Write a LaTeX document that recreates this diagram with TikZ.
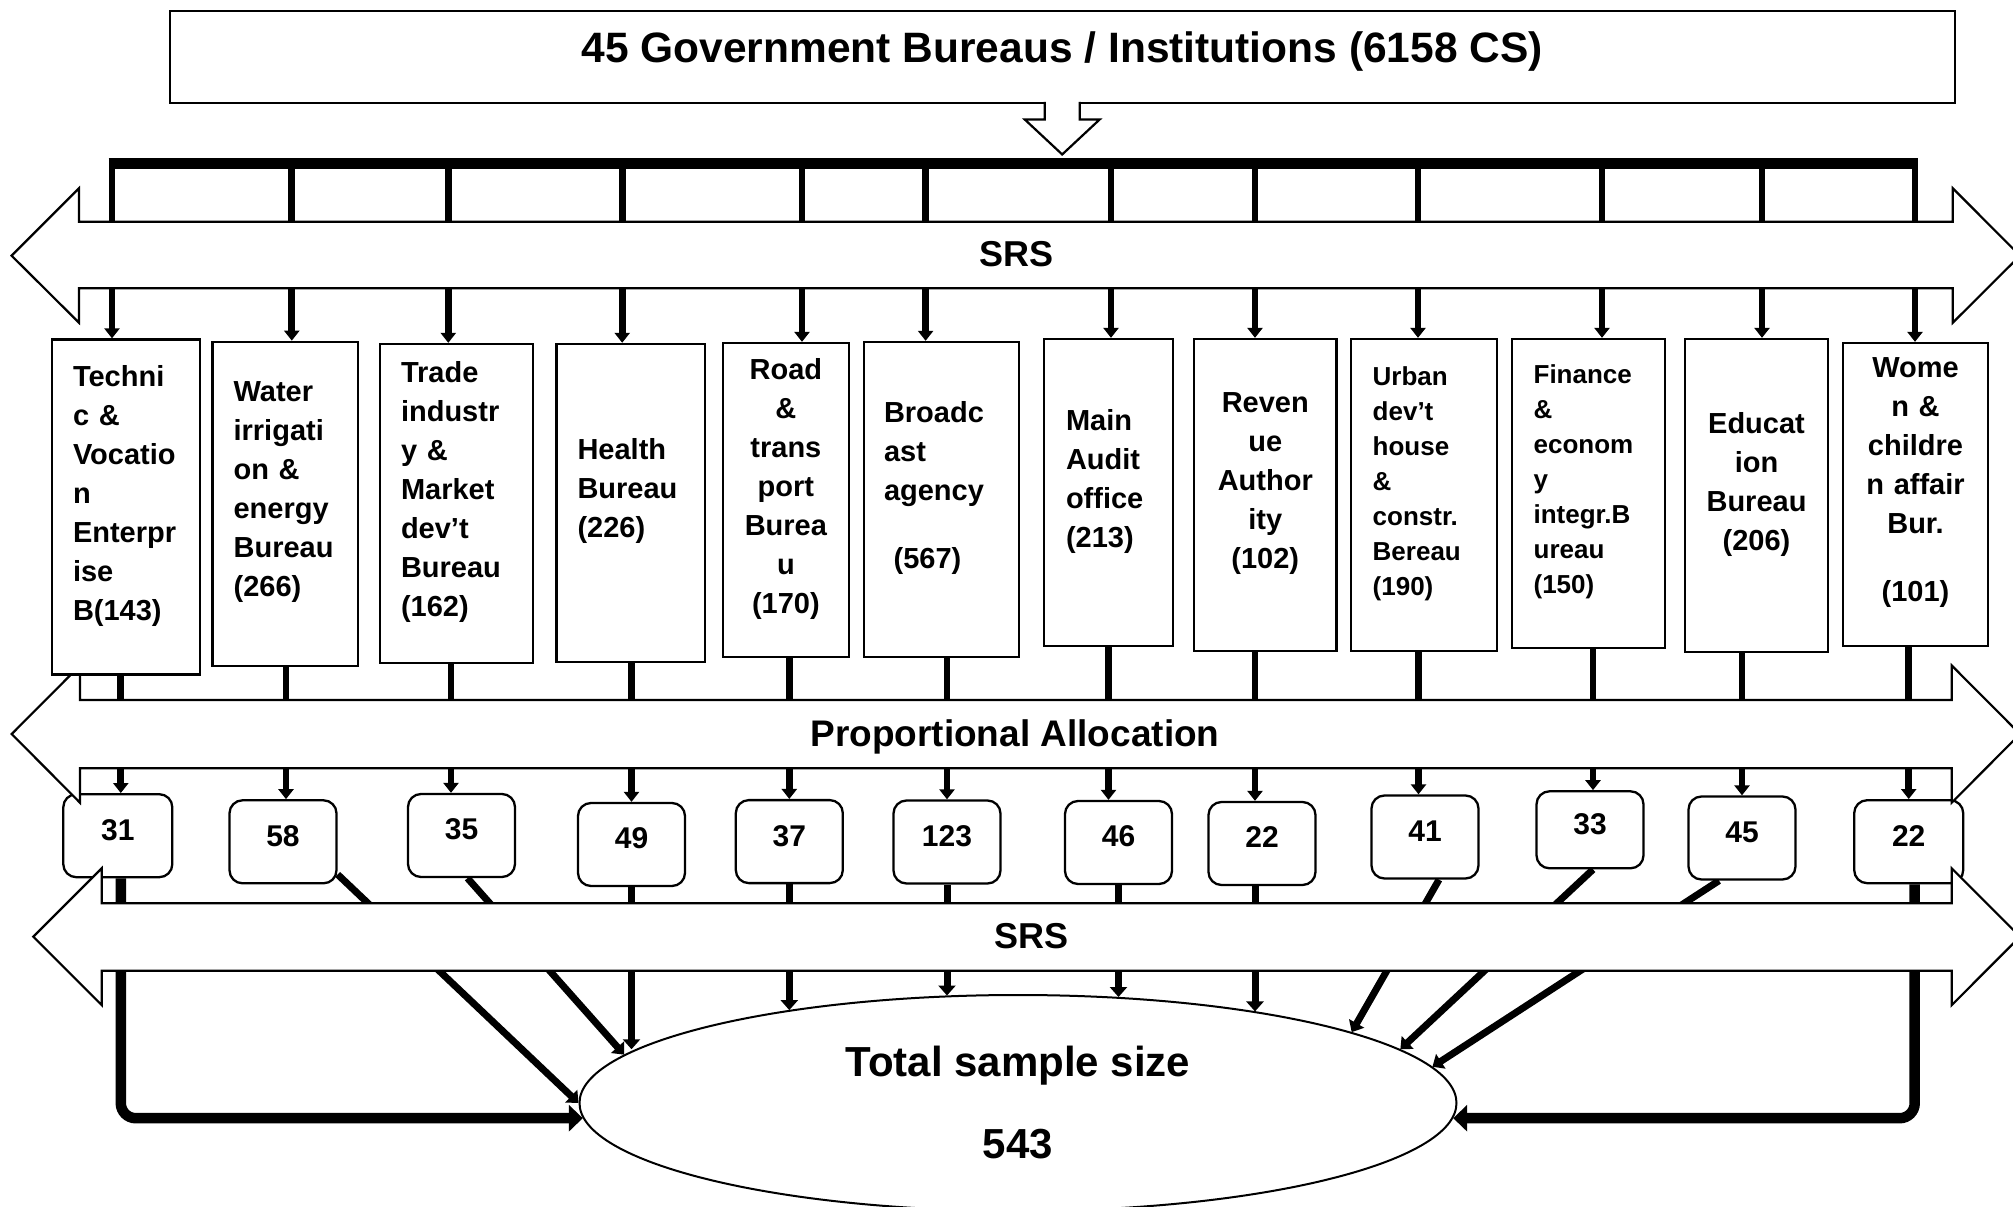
\documentclass[tikz,border=0pt]{standalone}
\usepackage{fontspec}
\setmainfont{Liberation Sans}
\usetikzlibrary{arrows.meta,shapes.geometric,backgrounds}

\begin{document}
\begin{tikzpicture}[
    x=1pt,y=-1pt,line width=2.3pt,
    bureau/.style={draw,fill=white,inner sep=0pt,align=left,
        font=\fontsize{29}{39}\selectfont\bfseries,
        execute at end node={\endgraf\vspace*{23pt}}},
    smallbureau/.style={bureau,font=\fontsize{26}{35}\selectfont\bfseries},
    sample/.style={draw,fill=white,rounded corners=13pt,inner sep=0pt,
        minimum width=107pt,minimum height=83pt,text depth=12pt,
        font=\fontsize{30}{36}\selectfont\bfseries},
    blockarrow/.style={draw,fill=white,line width=2.2pt},
    method/.style={font=\fontsize{36}{40}\selectfont\bfseries},
    tick/.style={line width=6.7pt,-{Triangle[length=10pt,width=15pt]}},
    link/.style={line width=7pt,-{Triangle[length=10pt,width=17pt]}},
    mainlink/.style={line width=10.5pt,rounded corners=15pt,-{Triangle[length=14pt,width=26pt]}}
]
\useasboundingbox (0,0) rectangle (2013,1207);

\node[draw,fill=white,minimum width=1785pt,minimum height=92.6pt,text depth=20.6pt,
    font=\fontsize{42.5}{50}\selectfont\bfseries] (title) at (1062.2,57)
    {45 Government Bureaus / Institutions (6158 CS)};

% sample size per bureau
\node[sample,minimum width=109pt] (n1) at (117.8,835.7) {31};
\node[sample] (n2) at (283,841.8) {58};
\node[sample] (n3) at (461.5,835.5) {35};
\node[sample] (n4) at (631.5,844.5) {49};
\node[sample] (n5) at (789.3,841.6) {37};
\node[sample] (n6) at (947,842) {123};
\node[sample] (n7) at (1118.5,842.5) {46};
\node[sample] (n8) at (1262,843.5) {22};
\node[sample] (n9) at (1425,837) {41};
\node[sample,minimum height=77pt] (n10) at (1590,829.8) {33};
\node[sample] (n11) at (1742,838) {45};
\node[sample,minimum width=109pt] (n12) at (1908.7,841.7) {22};

\node[draw,fill=white,ellipse,line width=2pt,inner sep=0pt,
    minimum width=877pt,minimum height=216pt,align=center,
    font=\fontsize{42}{82}\selectfont\bfseries] (tot) at (1018,1103)
    {Total sample size\\543};

% sampling steps
\draw[blockarrow] (79,188.3) -- (11.6,255.7) -- (79,322.7) -- (79,288.3)
    -- (1952.8,288.3) -- (1952.8,322.7) -- (2020,255.7) -- (1952.8,188.3)
    -- (1952.8,221.7) -- (79,221.7) -- cycle;
\node[method] (srs1) at (1016,254) {SRS};

\draw[blockarrow] (80,665.5) -- (11.7,734) -- (80,802.7) -- (80,768.3)
    -- (1951.7,768.3) -- (1951.7,802.7) -- (2020,734) -- (1951.7,665.5)
    -- (1951.7,700) -- (80,700) -- cycle;
\node[method,font=\fontsize{37}{40}\selectfont\bfseries] (alloc) at (1015,737)
    {Proportional Allocation};

\draw[blockarrow] (101.7,868.3) -- (33.3,936.7) -- (101.7,1005.1) -- (101.7,970.7)
    -- (1951.7,970.7) -- (1951.7,1005.1) -- (2020,936.7) -- (1951.7,868.3)
    -- (1951.7,903.3) -- (101.7,903.3) -- cycle;
\node[method] (srs2) at (1031.6,936.5) {SRS};

% bureaus
\node[bureau,minimum width=148pt,minimum height=335pt,text width=106pt] (b1) at (126,507)
    {Techni\\c \&\\Vocatio\\n\\Enterpr\\ise\\B(143)};
\node[bureau,minimum width=145.4pt,minimum height=324pt,text width=103.4pt] (b2) at (285.3,503.8)
    {Water\\irrigati\\on \&\\energy\\Bureau\\(266)};
\node[bureau,minimum width=153pt,minimum height=319pt,text width=111pt] (b3) at (456.5,503.5)
    {Trade\\industr\\y \&\\Market\\dev’t\\Bureau\\(162)};
\node[bureau,minimum width=148.2pt,minimum height=317.7pt,text width=106.2pt] (b4) at (630.6,502.8)
    {Health\\Bureau\\(226)};
\node[bureau,align=center,minimum width=126.3pt,minimum height=314pt,text width=106pt] (b5) at (785.9,500)
    {Road\\\&\\trans\\port\\Burea\\u\\(170)};
\node[bureau,minimum width=155pt,minimum height=314.7pt,text width=115pt] (b6) at (941.5,499.3)
    {Broadc\\ast\\agency\\[29pt]~(567)};
\node[bureau,minimum width=129pt,minimum height=307pt,text width=85pt] (b7) at (1108.5,492.5)
    {Main\\Audit\\office\\(213)};
\node[bureau,align=center,minimum width=142.6pt,minimum height=312pt,text width=122pt] (b8) at (1265.3,495)
    {Reven\\ue\\Author\\ity\\(102)};
\node[smallbureau,minimum width=146pt,minimum height=312pt,text width=102.6pt] (b9) at (1424,495)
    {Urban\\dev’t\\house\\\&\\constr.\\Bereau\\(190)};
\node[smallbureau,minimum width=153pt,minimum height=309pt,text width=109.8pt] (b10) at (1588.5,493.5)
    {Finance\\\&\\econom\\y\\integr.B\\ureau\\(150)};
\node[bureau,align=center,minimum width=143pt,minimum height=313pt,text width=123pt] (b11) at (1756.5,495.5)
    {Educat\\ion\\Bureau\\(206)};
\node[bureau,align=center,minimum width=145pt,minimum height=303pt,text width=125pt] (b12) at (1915.5,494.5)
    {Wome\\n \&\\childre\\n affair\\Bur.\\[29pt](101)};

% bar under the title
\coordinate (bar1) at (112,163.3);
\coordinate (bar2) at (291.8,163.3);
\coordinate (bar3) at (448.3,163.3);
\coordinate (bar4) at (622.2,163.3);
\coordinate (bar5) at (802,163.3);
\coordinate (bar6) at (925.6,163.3);
\coordinate (bar7) at (1111,163.3);
\coordinate (bar8) at (1255,163.3);
\coordinate (bar9) at (1418,163.3);
\coordinate (bar10) at (1602,163.3);
\coordinate (bar11) at (1762,163.3);
\coordinate (bar12) at (1915,163.3);
\draw[line width=11.3pt,shorten <=-3.4pt,shorten >=-3.4pt] (bar1) -- (bar12);

\draw[blockarrow] ([xshift=-17.5pt,yshift=2.5pt]title.south) -- ++(0,17.5) -- ++(-20,0)
    -- ++(37.5,35) -- ++(37.5,-35) -- ++(-20,0) -- ++(0,-17.5);

\begin{scope}[on background layer]
\fill[white] (0,0) rectangle (2013,1207);

\draw[tick] (bar1) -- (bar1 |- b1.north);
\draw[tick] (bar2) -- (bar2 |- b2.north);
\draw[tick] (bar3) -- (bar3 |- b3.north);
\draw[tick] (bar4) -- (bar4 |- b4.north);
\draw[tick] (bar5) -- (bar5 |- b5.north);
\draw[tick] (bar6) -- (bar6 |- b6.north);
\draw[tick] (bar7) -- (bar7 |- b7.north);
\draw[tick] (bar8) -- (bar8 |- b8.north);
\draw[tick] (bar9) -- (bar9 |- b9.north);
\draw[tick] (bar10) -- (bar10 |- b10.north);
\draw[tick] (bar11) -- (bar11 |- b11.north);
\draw[tick] (bar12) -- (bar12 |- b12.north);

\draw[tick] ([xshift=3pt]n1.north |- b1.south) -- ([xshift=3pt]n1.north);
\draw[tick] ([xshift=3pt]n2.north |- b2.south) -- ([xshift=3pt]n2.north);
\draw[tick] ([xshift=-10.5pt]n3.north |- b3.south) -- ([xshift=-10.5pt]n3.north);
\draw[tick] (n4.north |- b4.south) -- (n4.north);
\draw[tick] (n5.north |- b5.south) -- (n5.north);
\draw[tick] (n6.north |- b6.south) -- (n6.north);
\draw[tick] ([xshift=-10pt]n7.north |- b7.south) -- ([xshift=-10pt]n7.north);
\draw[tick] ([xshift=-7pt]n8.north |- b8.south) -- ([xshift=-7pt]n8.north);
\draw[tick] ([xshift=-6.5pt]n9.north |- b9.south) -- ([xshift=-6.5pt]n9.north);
\draw[tick] ([xshift=3pt]n10.north |- b10.south) -- ([xshift=3pt]n10.north);
\draw[tick] (n11.north |- b11.south) -- (n11.north);
\draw[tick] (n12.north |- b12.south) -- (n12.north);

\draw[mainlink] ([xshift=3pt]n1.south) |- (tot.182);
\draw[link] ([yshift=10pt]n2.south east) -- (tot.west);
\draw[link] ([xshift=6pt]n3.south) -- (tot.173);
\draw[link] (n4.south) -- (n4.south |- tot.172);
\draw[link] (n5.south) -- (n5.south |- tot.158);
\draw[link] (n6.south) -- (n6.south |- tot.124);
\draw[link] (n7.south) -- (n7.south |- tot.46);
\draw[link] ([xshift=-7pt]n8.south) -- ([xshift=-7pt]n8.south |- tot.21);
\draw[link] ([xshift=14pt]n9.south) -- (tot.12);
\draw[link] ([xshift=3pt]n10.south) -- (tot.8);
\draw[link] ([xshift=-23pt]n11.south) -- (tot.5);
\draw[mainlink] ([xshift=6pt]n12.south) |- (tot.358);
\end{scope}
\end{tikzpicture}
\end{document}
